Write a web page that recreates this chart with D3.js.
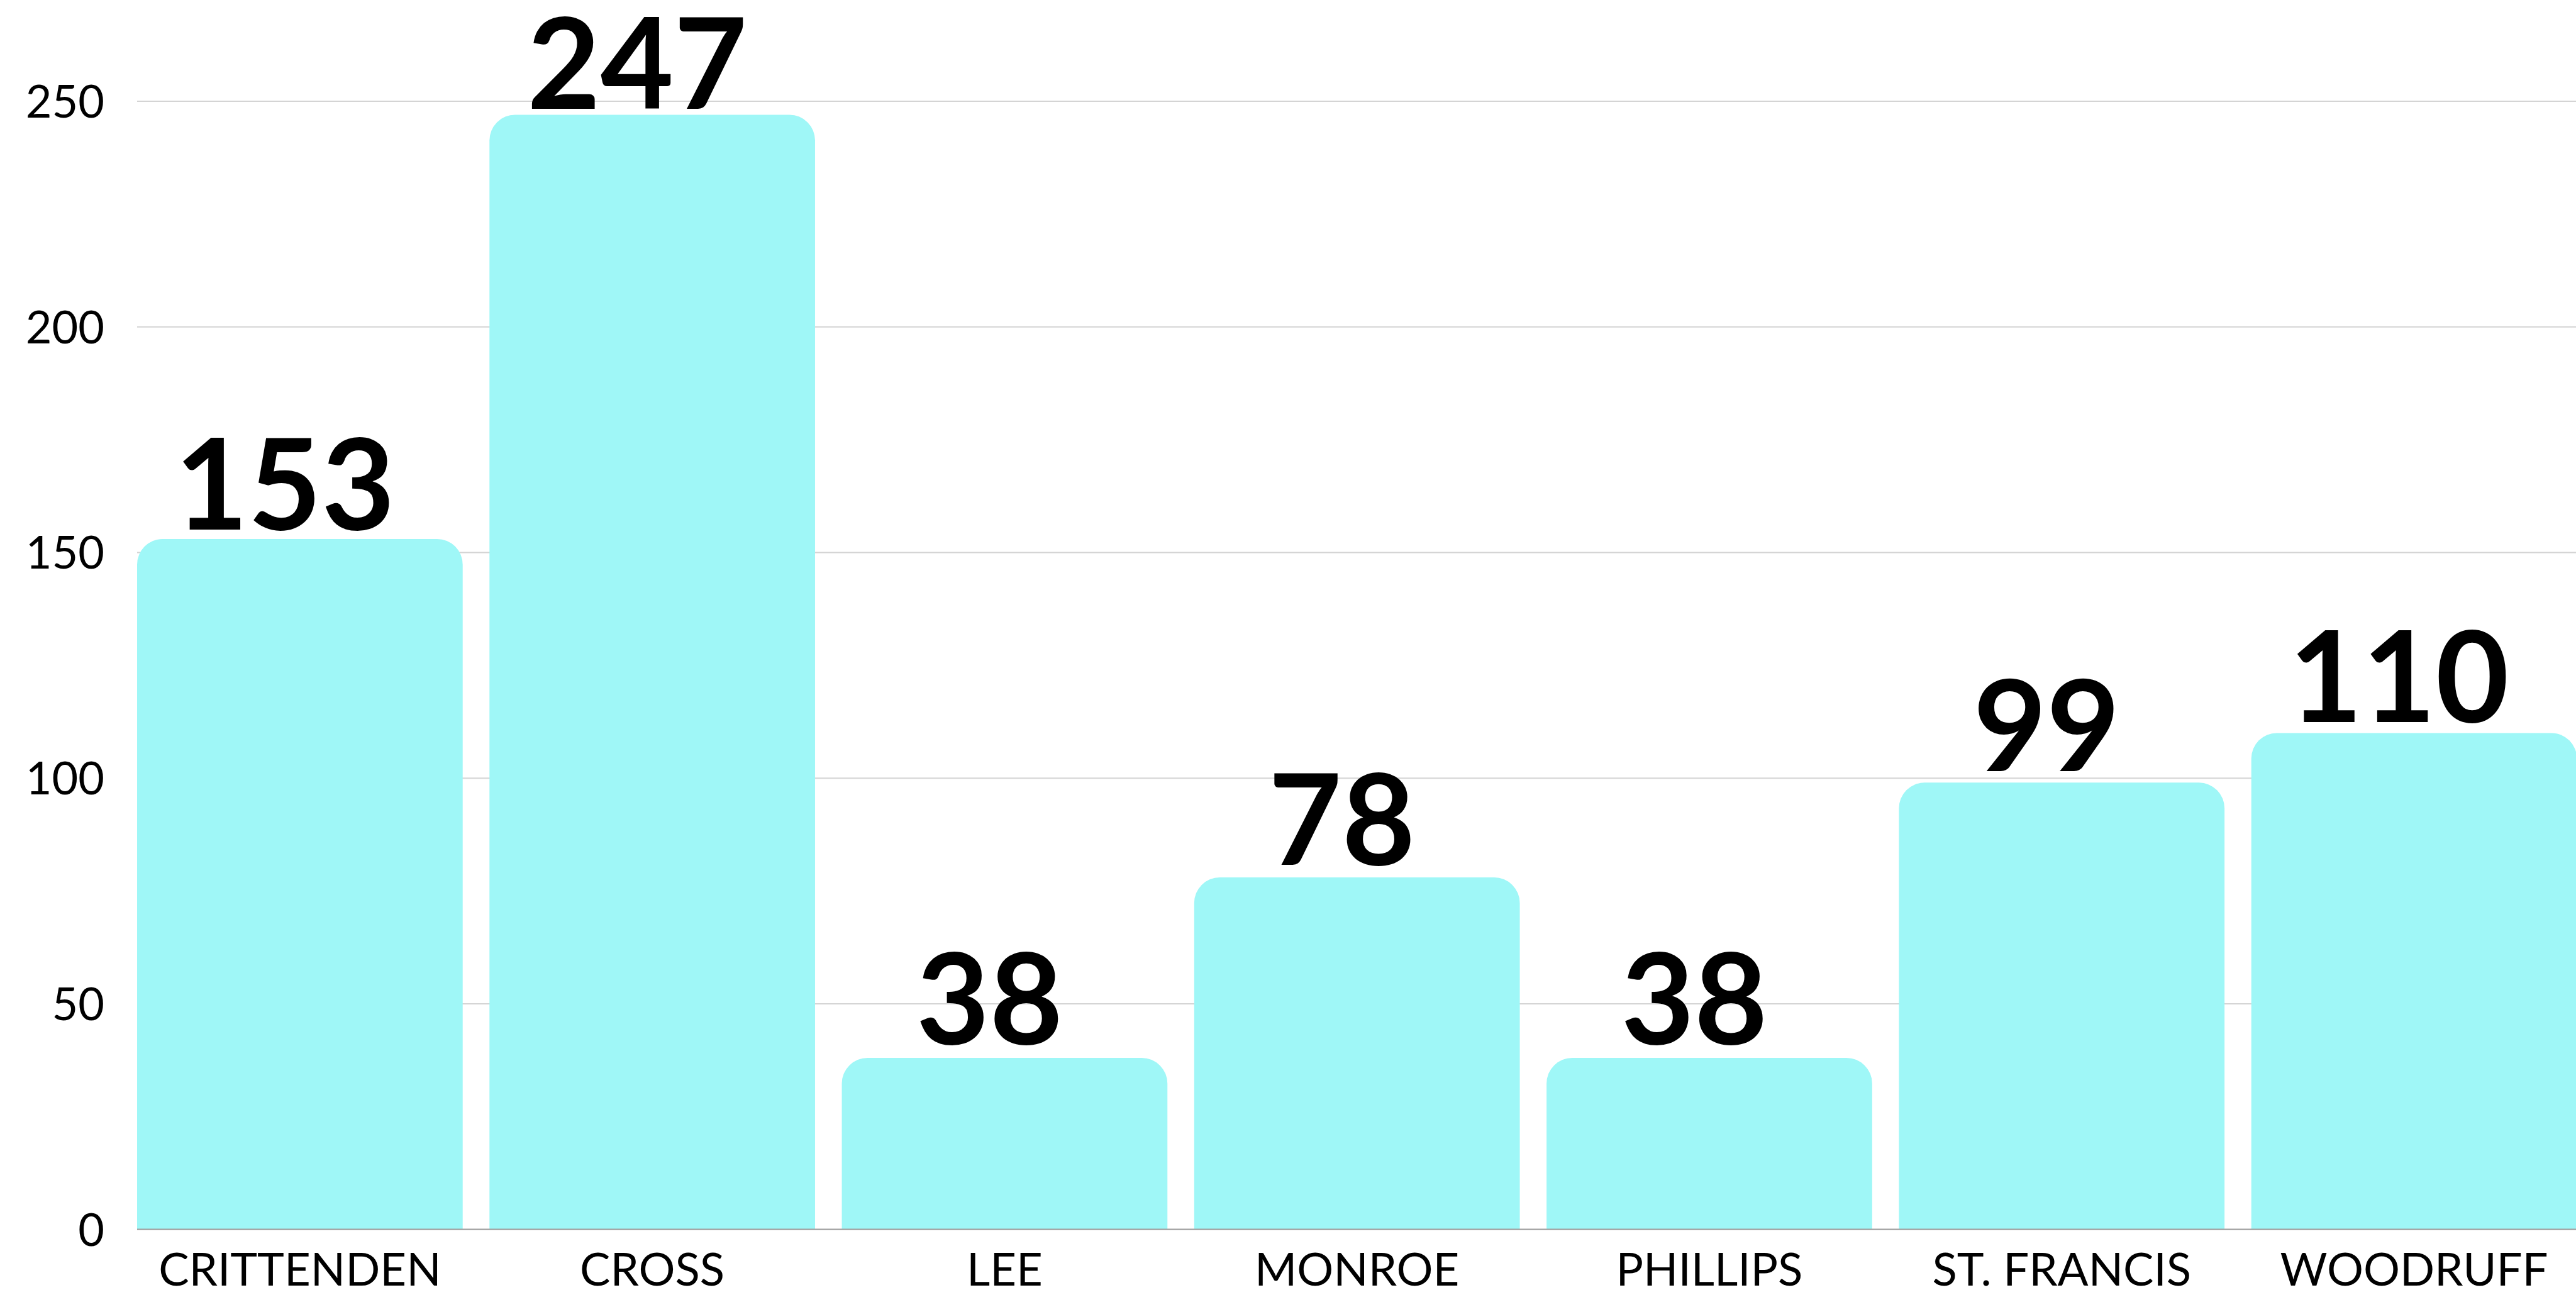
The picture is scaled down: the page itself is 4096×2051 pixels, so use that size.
<!DOCTYPE html>
<html>
<head>
<meta charset="utf-8">
<script src="https://cdn.jsdelivr.net/npm/d3@7"></script>
<style>
  html, body { margin: 0; padding: 0; background: #fff; }
  svg { display: block; font-family: Lato, "Open Sans", sans-serif; }
</style>
</head>
<body>
<svg id="chart"></svg>
<script>
const width = 4096;
const height = 2051;

// data
const counties = ["CRITTENDEN", "CROSS", "LEE", "MONROE", "PHILLIPS", "ST. FRANCIS", "WOODRUFF"];
const values = [153, 247, 38, 78, 38, 99, 110];
const yTicks = [0, 50, 100, 150, 200, 250];

const data = counties.map((c, i) => ({ name: c, value: values[i] }));

const svg = d3.select("#chart").attr("width", width).attr("height", height);

const left = 218;
const x = d3.scaleBand()
  .domain(counties)
  .range([left, 4097.4])
  .paddingInner(0.076)
  .paddingOuter(0);

const y = d3.scaleLinear().domain([0, 250]).range([1954.6, 161]);

// labels sit on a slightly tighter scale than the bars
const labelY = d3.scaleLinear().domain([0, 250]).range([1930, 152]);

// gridlines
svg.append("g")
  .attr("class", "grid")
  .selectAll("line")
  .data(yTicks.filter((t) => t > 0))
  .enter()
  .append("line")
  .attr("x1", left)
  .attr("x2", width)
  .attr("y1", (d) => y(d))
  .attr("y2", (d) => y(d))
  .attr("stroke", "#d4d4d4")
  .attr("stroke-width", 2);

// y tick labels
svg.append("g")
  .attr("class", "y-labels")
  .selectAll("text")
  .data(yTicks)
  .enter()
  .append("text")
  .attr("x", 166)
  .attr("y", (d) => y(d))
  .attr("dy", "0.36em")
  .attr("text-anchor", "end")
  .attr("font-size", 72)
  .attr("fill", "#000")
  .text((d) => d);

function topRounded(x0, y0, w, h, r) {
  const p = d3.path();
  r = Math.min(r, h, w / 2);
  p.moveTo(x0, y0 + h);
  p.lineTo(x0, y0 + r);
  p.arcTo(x0, y0, x0 + r, y0, r);
  p.lineTo(x0 + w - r, y0);
  p.arcTo(x0 + w, y0, x0 + w, y0 + r, r);
  p.lineTo(x0 + w, y0 + h);
  p.closePath();
  return p.toString();
}

// bars
svg.append("g")
  .attr("class", "bars")
  .selectAll("path")
  .data(data)
  .enter()
  .append("path")
  .attr("d", (d) => topRounded(x(d.name), y(d.value), x.bandwidth(), y(0) - y(d.value), 40.7))
  .attr("fill", "#9ff7f7");

// baseline
svg.append("line")
  .attr("x1", left)
  .attr("x2", width)
  .attr("y1", y(0))
  .attr("y2", y(0))
  .attr("stroke", "#a0a0a0")
  .attr("stroke-width", 2.4);

// value labels
svg.append("g")
  .attr("class", "values")
  .selectAll("text")
  .data(data)
  .enter()
  .append("text")
  .attr("x", (d) => x(d.name) + x.bandwidth() / 2)
  .attr("dx", -24)
  .attr("y", (d) => labelY(d.value))
  .attr("text-anchor", "middle")
  .attr("font-size", 201)
  .attr("font-weight", 700)
  .attr("fill", "#000")
  .text((d) => d.value);

// category labels
svg.append("g")
  .attr("class", "x-labels")
  .selectAll("text")
  .data(counties)
  .enter()
  .append("text")
  .attr("x", (d) => x(d) + x.bandwidth() / 2)
  .attr("y", 2043.6)
  .attr("text-anchor", "middle")
  .attr("font-size", 72.5)
  .attr("fill", "#000")
  .text((d) => d);
</script>
</body>
</html>
